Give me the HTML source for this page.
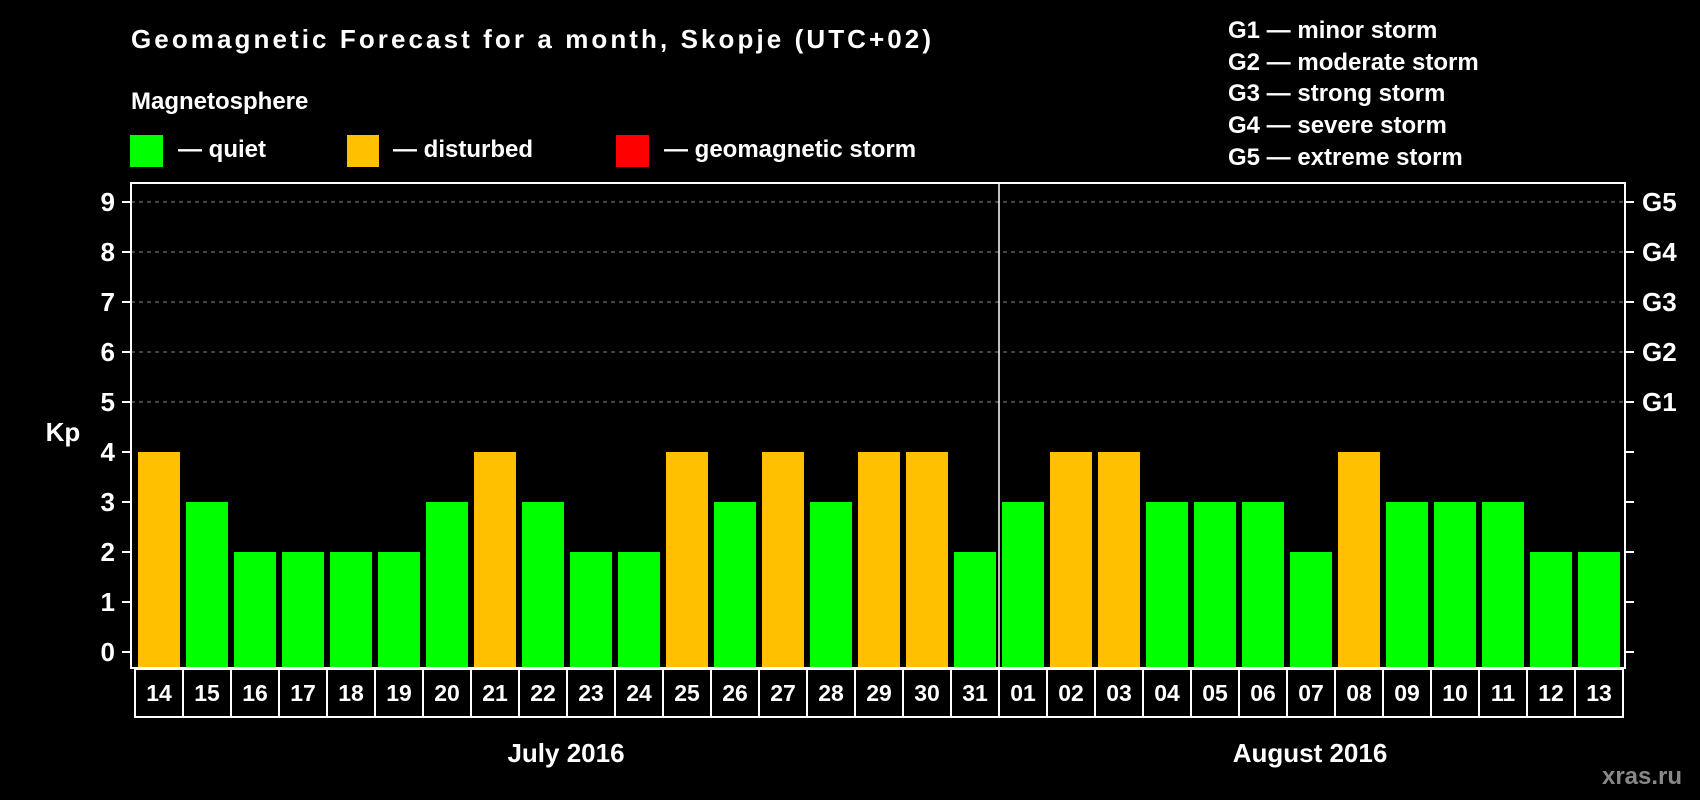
<!DOCTYPE html>
<html><head><meta charset="utf-8"><style>
body{margin:0;background:#000;}
svg{display:block;font-family:"Liberation Sans",Arial,sans-serif;font-weight:bold;}
</style></head><body>
<svg id="c" width="1700" height="800" viewBox="0 0 1700 800">
<rect width="1700" height="800" fill="#000"/>
<text x="131" y="48" fill="#fff" font-size="26" textLength="800">Geomagnetic Forecast for a month, Skopje (UTC+02)</text>
<text x="131" y="109" fill="#fff" font-size="24">Magnetosphere</text>
<g><rect x="130" y="135" width="33" height="32" fill="#00ff00"/><text x="178" y="157" fill="#fff" font-size="24">— quiet</text></g>
<g><rect x="347" y="135" width="32" height="32" fill="#ffc000"/><text x="393" y="157" fill="#fff" font-size="24">— disturbed</text></g>
<g><rect x="616" y="135" width="33" height="32" fill="#ff0000"/><text x="664" y="157" fill="#fff" font-size="24">— geomagnetic storm</text></g>
<g fill="#fff" font-size="24">
<text x="1228" y="38">G1 — minor storm</text>
<text x="1228" y="70">G2 — moderate storm</text>
<text x="1228" y="101">G3 — strong storm</text>
<text x="1228" y="133">G4 — severe storm</text>
<text x="1228" y="165">G5 — extreme storm</text>
</g>
<text x="63" y="441" fill="#fff" font-size="26" text-anchor="middle">Kp</text>
<text x="566" y="762" fill="#fff" font-size="26" text-anchor="middle">July 2016</text>
<text x="1310" y="762" fill="#fff" font-size="26" text-anchor="middle">August 2016</text>
<text x="1642" y="784" fill="#888" font-size="24" text-anchor="middle">xras.ru</text>
<g id="plot"></g>
</svg>
<script>
const days=["14","15","16","17","18","19","20","21","22","23","24","25","26","27","28","29","30","31","01","02","03","04","05","06","07","08","09","10","11","12","13"];
const kp=[4,3,2,2,2,2,3,4,3,2,2,4,3,4,3,4,4,2,3,4,4,3,3,3,2,4,3,3,3,2,2];
const yTicks=[0,1,2,3,4,5,6,7,8,9];
const gLabels=["","","","","","G1","G2","G3","G4","G5"];
const NS="http://www.w3.org/2000/svg";
const L=131,R=1625,T=183,B=668;
const y=v=>652-v*50;
const x0=i=>138+i*48;
const g=document.getElementById('plot');
function mk(t,a,p){const e=document.createElementNS(NS,t);for(const k in a)e.setAttribute(k,a[k]);(p||g).appendChild(e);return e;}
yTicks.forEach(v=>{
  if(v>=5){const d=mk('line',{x1:L,x2:R,y1:y(v),y2:y(v),stroke:'#888','stroke-dasharray':'4,4','stroke-width':1});
    
    }
  const t1=mk('line',{x1:L-9,x2:L,y1:y(v),y2:y(v),stroke:'#fff','stroke-width':2});
  
  
  const t2=mk('line',{x1:R,x2:R+9,y1:y(v),y2:y(v),stroke:'#fff','stroke-width':2});
  
  
  const tl=mk('text',{x:115,y:y(v)+9,fill:'#fff','font-size':26,'text-anchor':'end'});tl.textContent=v;
  
  
  if(gLabels[v]){const gl=mk('text',{x:1642,y:y(v)+9,fill:'#fff','font-size':26});gl.textContent=gLabels[v];
    
    }
});
kp.forEach((v,i)=>{
  const c=v>=5?'#ff0000':(v>=4?'#ffc000':'#00ff00');
  const b=mk('rect',{x:x0(i),y:y(v),width:42,height:B-1-y(v),fill:c});
  
  
  const bx=mk('rect',{x:x0(i)-3,y:B+1,width:48,height:48,fill:'none',stroke:'#fff','stroke-width':2});
  
  
  const t=mk('text',{x:x0(i)+21,y:B+33,fill:'#fff','font-size':23,'text-anchor':'middle'});t.textContent=days[i];
  
  
});
const f=mk('rect',{x:L,y:T,width:R-L,height:B-T,fill:'none',stroke:'#fff','stroke-width':2});


const dv=mk('line',{x1:999,x2:999,y1:T,y2:B,stroke:'#fff','stroke-width':1.5});


</script>
</body></html>
